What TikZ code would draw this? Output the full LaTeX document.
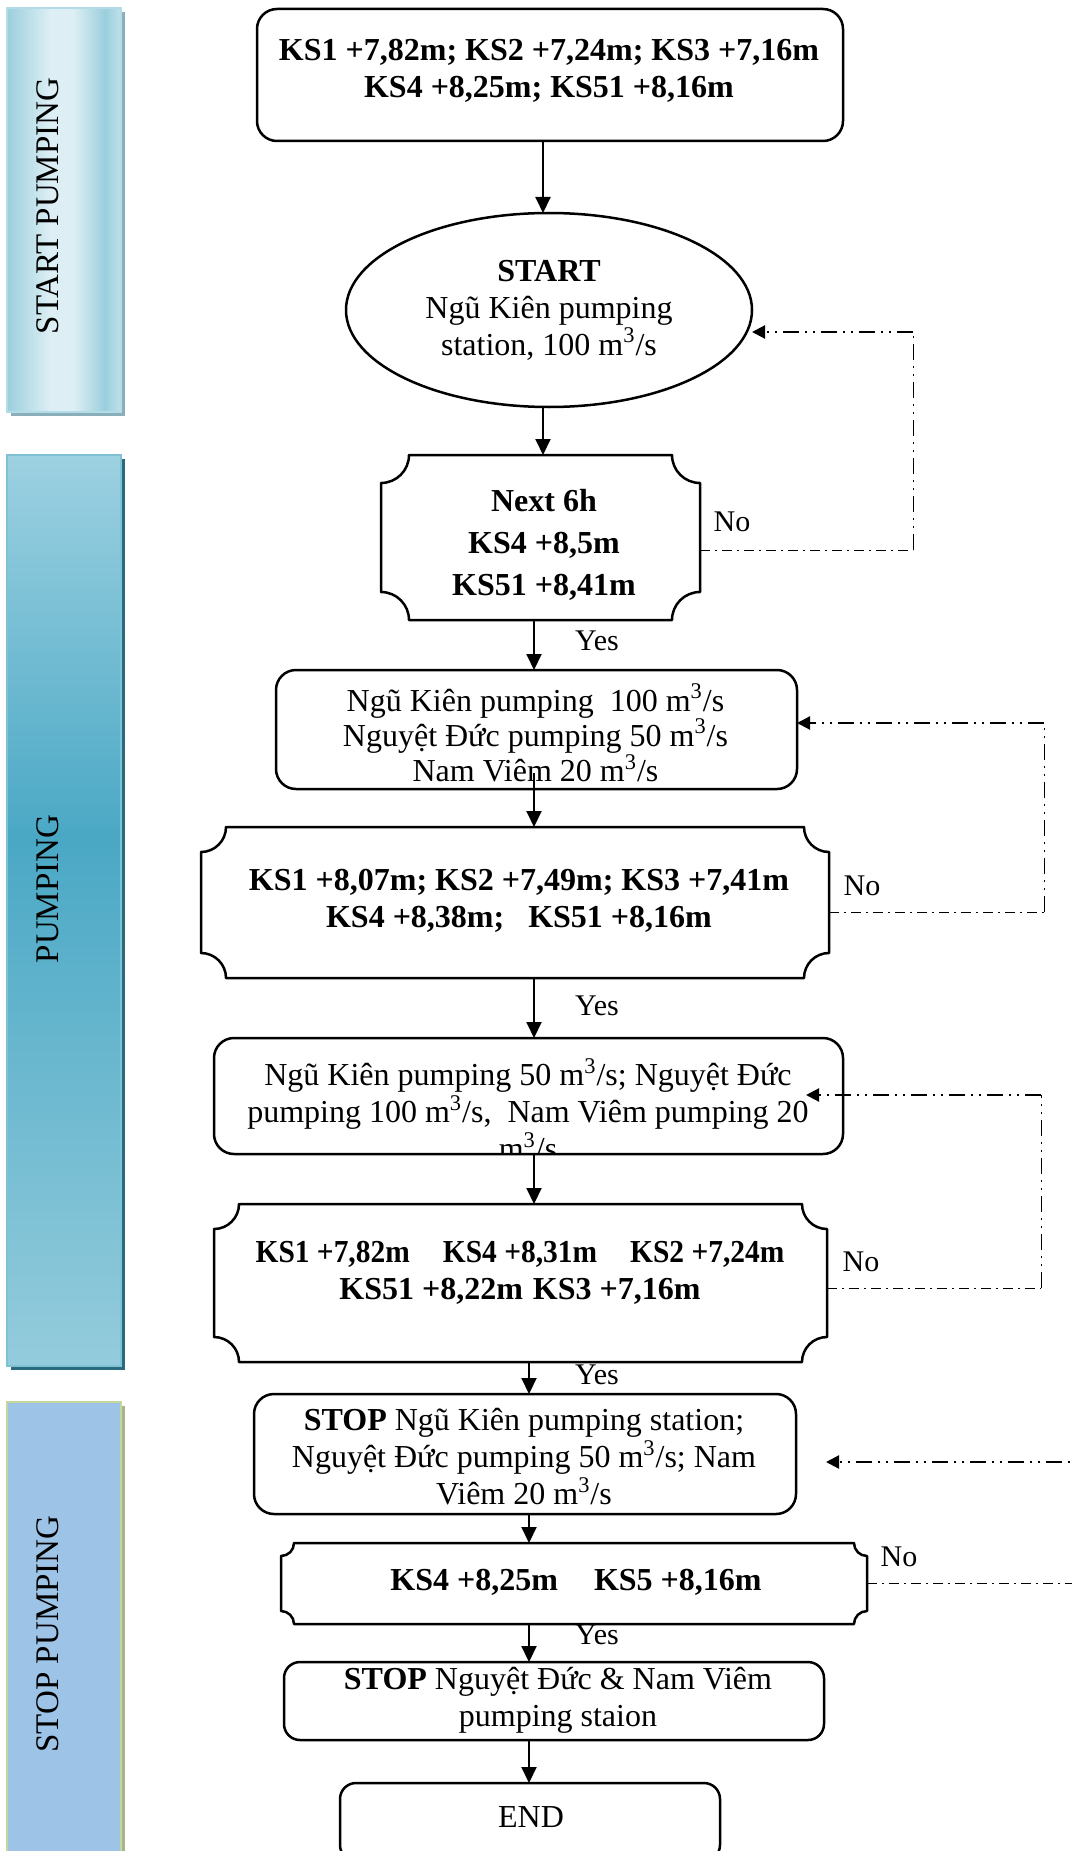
\documentclass[tikz,border=0pt]{standalone}
\usepackage{fontspec}
\setmainfont{Liberation Serif}
\usepackage{graphicx}
\usetikzlibrary{shapes.geometric,arrows.meta,calc}
\definecolor{spA}{HTML}{9BCFDD}
\definecolor{spB}{HTML}{DDEFF4}
\definecolor{spC}{HTML}{BFE1EA}
\definecolor{spShadow}{HTML}{8AAFBA}
\definecolor{spBorder}{HTML}{B4DCE6}
\definecolor{pTop}{HTML}{9DD1E1}
\definecolor{pMid}{HTML}{4AA8C5}
\definecolor{pBot}{HTML}{94CCDC}
\definecolor{pShadow}{HTML}{2A6B7E}
\definecolor{pBorder}{HTML}{7FC2D4}
\definecolor{stopFill}{HTML}{9DC3E6}
\definecolor{stopLine}{HTML}{C3D69B}
\definecolor{stShadow}{HTML}{A6B58A}
\pgfdeclarehorizontalshading{startbar}{100bp}{color(0bp)=(spA); color(25bp)=(spA); color(44bp)=(spB); color(54bp)=(spB); color(68bp)=(spA); color(75bp)=(spC); color(100bp)=(spC)}
\pgfdeclareverticalshading{pumpbar}{100bp}{color(0bp)=(pBot); color(25bp)=(pBot); color(54bp)=(pMid); color(75bp)=(pTop); color(100bp)=(pTop)}
\newcommand\cubm{m\textsuperscript{3}/s}
\newcommand\plaquepath[2]{%
  \pgfmathsetmacro\pk{0.552*#2}%
  \draw[boxline] ([xshift=#2pt]#1.north west) -- ([xshift=-#2pt]#1.north east)
   .. controls ([xshift=-#2pt,yshift=-\pk pt]#1.north east) and ([xshift=-\pk pt,yshift=-#2pt]#1.north east) .. ([yshift=-#2pt]#1.north east)
   -- ([yshift=#2pt]#1.south east)
   .. controls ([xshift=-\pk pt,yshift=#2pt]#1.south east) and ([xshift=-#2pt,yshift=\pk pt]#1.south east) .. ([xshift=-#2pt]#1.south east)
   -- ([xshift=#2pt]#1.south west)
   .. controls ([xshift=#2pt,yshift=\pk pt]#1.south west) and ([xshift=\pk pt,yshift=#2pt]#1.south west) .. ([yshift=#2pt]#1.south west)
   -- ([yshift=-#2pt]#1.north west)
   .. controls ([xshift=\pk pt,yshift=-#2pt]#1.north west) and ([xshift=#2pt,yshift=-\pk pt]#1.north west) .. cycle;}
\begin{document}
\begin{tikzpicture}[x=0.5pt,y=-0.5pt,
  txt/.style={align=center, inner sep=0pt, font=\fontsize{16pt}{18.5pt}\selectfont},
  lbl/.style={inner sep=0pt, font=\fontsize{15pt}{17pt}\selectfont},
  rbox/.style={draw, line width=1.25pt, rounded corners=10pt, inner sep=0pt, outer sep=0pt, fill=white},
  pbox/.style={draw=none, inner sep=0pt, outer sep=0pt, rectangle},
  boxline/.style={line width=1.25pt, line join=round},
  arr/.style={line width=1pt, -{Triangle[length=8pt,width=7.5pt]}},
  thinA/.style={line width=0.5pt, dash pattern=on 5pt off 2.5pt on 1pt off 2.5pt},
  thinB/.style={line width=0.5pt, dash pattern=on 8pt off 3pt on 1pt off 3pt on 1pt off 3pt},
  thickB/.style={line width=1.1pt, dash pattern=on 8pt off 3pt on 1pt off 3pt on 1pt off 3pt, -{Triangle[length=6.5pt,width=6.5pt]}},
  barlabel/.style={rotate=90, inner sep=0pt, font=\fontsize{16.5pt}{18pt}\selectfont}
]
\fill[white] (0,0) rectangle (1071,1851);
\useasboundingbox (0,0) rectangle (1071,1851);

% side bars
\fill[spShadow] (11,12) rectangle (125,416);
\shade[shading=startbar] (7,8) rectangle (121,412);
\draw[spBorder, line width=0.8pt] (7,8) rectangle (121,412);
\node[barlabel] (l1) at (48,206) {START PUMPING};

\fill[pShadow] (11,459) rectangle (125,1370);
\shade[shading=pumpbar] (7,455) rectangle (121,1366);
\draw[pBorder, line width=0.6pt] (7,455) rectangle (121,1366);
\node[barlabel] (l2) at (48,889) {PUMPING};

\fill[stShadow] (11,1406) rectangle (125,1900);
\fill[stopFill] (7,1402) rectangle (121,1900);
\draw[stopLine, line width=1.2pt] (7,1402) rectangle (121,1900);
\node[barlabel] (l3) at (48,1634) {STOP PUMPING};

% boxes
\node[rbox, minimum width=293pt, minimum height=66pt] (b1) at (550,75) {};
\node[draw, ellipse, line width=1.25pt, minimum width=203pt, minimum height=97pt, inner sep=0pt, outer sep=0pt, align=center, font=\fontsize{16pt}{18.5pt}\selectfont] (e) at (549,310) {\textbf{START}\\Ngũ Kiên pumping\\station, 100 \cubm};
\node[pbox, minimum width=159.5pt, minimum height=82.5pt] (b2) at (540.5,537.5) {};
\plaquepath{b2}{14}
\node[rbox, minimum width=260.5pt, minimum height=59.5pt] (b3) at (536.5,729.5) {};
\node[pbox, minimum width=314pt, minimum height=75.5pt] (b4) at (515,902.5) {};
\plaquepath{b4}{12.5}
\node[rbox, minimum width=314.5pt, minimum height=58pt] (b5) at (528.5,1096) {};
\node[pbox, minimum width=306.5pt, minimum height=79pt] (b6) at (520.5,1283) {};
\plaquepath{b6}{12.5}
\node[rbox, minimum width=271pt, minimum height=60pt] (b7) at (525,1454) {};
\node[pbox, minimum width=293pt, minimum height=40.5pt] (b8) at (574,1583.5) {};
\plaquepath{b8}{6.5}
\node[rbox, rounded corners=8pt, minimum width=270pt, minimum height=39pt] (b9) at (554,1701) {};
\node[rbox, rounded corners=8pt, minimum width=190pt, minimum height=39pt] (b10) at (530,1822) {};

% texts
\node[txt] (t1) at (549,71) {\bfseries KS1 +7,82m; KS2 +7,24m; KS3 +7,16m\\\bfseries KS4 +8,25m; KS51 +8,16m};
\node[txt, font=\fontsize{16pt}{21pt}\selectfont] (t2) at (544,545) {\bfseries Next 6h\\\bfseries KS4 +8,5m\\\bfseries KS51 +8,41m};
\node[txt, font=\fontsize{16pt}{17.6pt}\selectfont] (t3) at (535.5,733) {Ngũ Kiên pumping~ 100 \cubm\\Nguyệt Đức pumping 50 \cubm\\Nam Viêm 20 \cubm};
\node[txt] (t4) at (519,901) {\bfseries KS1 +8,07m; KS2 +7,49m; KS3 +7,41m\\\bfseries KS4 +8,38m;\ \ \ KS51 +8,16m};
\begin{scope}
\clip (b5.north west) rectangle (b5.south east);
\node[txt] (t5) at (528,1109) {Ngũ Kiên pumping 50 \cubm; Nguyệt Đức\\pumping 100 \cubm,~ Nam Viêm pumping 20\\\cubm};
\end{scope}
\node[txt] (t6) at (520,1273) {\bfseries\scalebox{0.92}[1]{KS1 +7,82m\hspace{18pt}KS4 +8,31m\hspace{18pt}KS2 +7,24m}\\\bfseries KS51 +8,22m\hspace{5pt}KS3 +7,16m};
\node[txt] (t7) at (524,1457) {\textbf{STOP} Ngũ Kiên pumping station;\\Nguyệt Đức pumping 50 \cubm; Nam\\Viêm 20 \cubm};
\node[txt] (t8) at (576,1582) {\bfseries KS4 +8,25m\hspace{18pt}KS5 +8,16m};
\node[txt] (t9) at (558,1700) {\textbf{STOP} Nguyệt Đức \& Nam Viêm\\pumping staion};
\node[txt] (t10) at (531,1817) {END};

% labels
\node[lbl] (no1) at (732,522) {No};
\node[lbl] (yes1) at (597,641) {Yes};
\node[lbl] (no2) at (862,886) {No};
\node[lbl] (yes2) at (597,1006) {Yes};
\node[lbl] (no3) at (861,1262) {No};
\node[lbl] (yes3) at (597,1375) {Yes};
\node[lbl] (no4) at (899,1557) {No};
\node[lbl] (yes4) at (597,1635) {Yes};

% main arrows
\coordinate (c1) at (543,0);
\coordinate (c2) at (534,0);
\coordinate (c3) at (529,0);
\draw[arr] (b1.south -| c1) -- (e.north -| c1);
\draw[arr] (e.south -| c1) -- (b2.north -| c1);
\draw[arr] (b2.south -| c2) -- (b3.north -| c2);
\draw[arr] ($(b3.south -| c2)+(0,-16)$) -- (b4.north -| c2);
\draw[arr] (b4.south -| c2) -- (b5.north -| c2);
\draw[arr] (b5.south -| c2) -- (b6.north -| c2);
\draw[arr] (b6.south -| c3) -- (b7.north -| c3);
\draw[arr] (b7.south -| c3) -- (b8.north -| c3);
\draw[arr] (b8.south -| c3) -- (b9.north -| c3);
\draw[arr] (b9.south -| c3) -- (b10.north -| c3);

% feedback loops
\coordinate (d1) at (913,550);
\coordinate (d1t) at (913,332);
\draw[thinA] (b2.east |- d1) -- (d1);
\draw[thinB] (d1) -- (d1t);
\draw[thickB] (d1t) -- (e.east |- d1t);

\coordinate (d2) at (1044,912);
\coordinate (d2t) at (1044,723);
\draw[thinA] (b4.east |- d2) -- (d2);
\draw[thinB] (d2) -- (d2t);
\draw[thickB] (d2t) -- (b3.east |- d2t);

\coordinate (d3) at (1041,1288);
\coordinate (d3t) at (1041,1095);
\coordinate (n3) at (806,1095);
\draw[thinA] (b6.east |- d3) -- (d3);
\draw[thinB] (d3) -- (d3t);
\draw[thickB] (d3t) -- (n3);

\coordinate (d4) at (1100,1583);
\coordinate (d4t) at (1100,1462);
\coordinate (n4) at (826,1462);
\draw[thinA] (b8.east |- d4) -- (d4);
\draw[thinB] (d4) -- (d4t);
\draw[thickB] (d4t) -- (n4);
\end{tikzpicture}
\end{document}
